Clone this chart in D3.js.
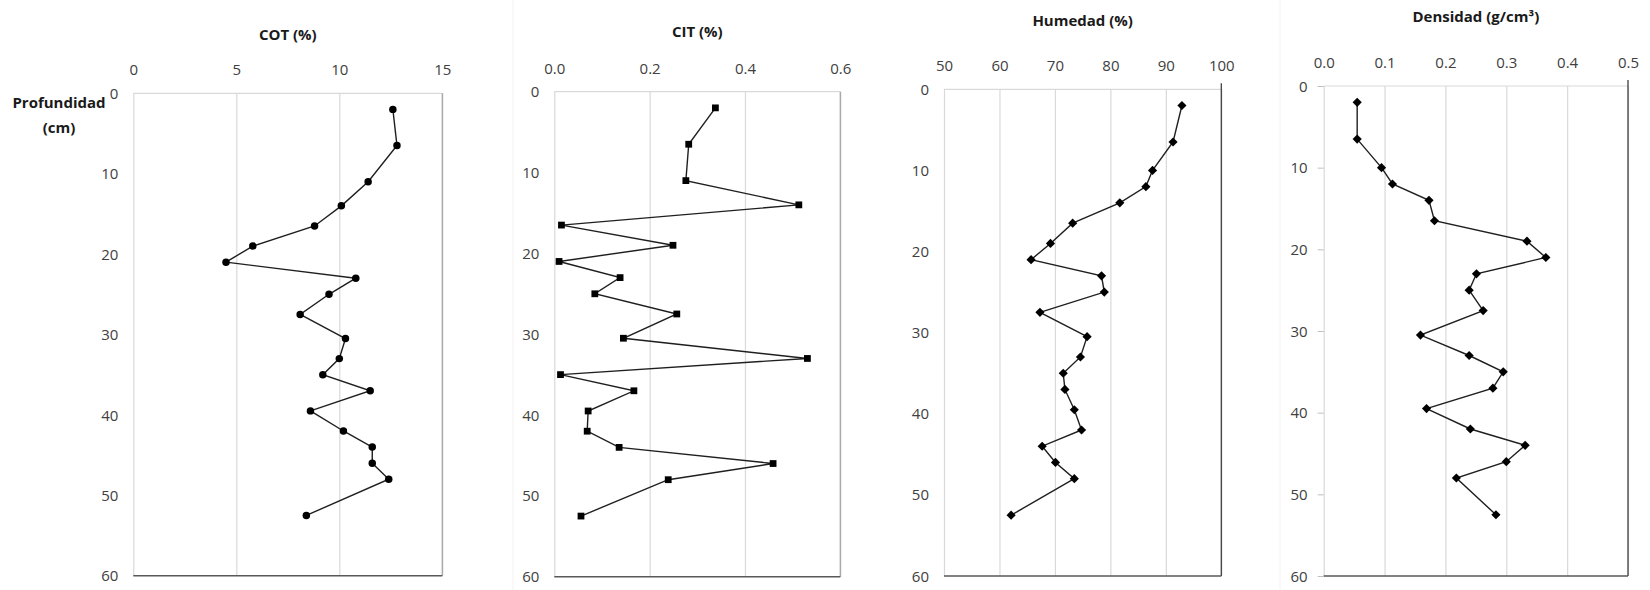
<!DOCTYPE html>
<html>
<head>
<meta charset="utf-8">
<script src="https://cdn.jsdelivr.net/npm/d3@7"></script>
<style>
  html, body { margin: 0; padding: 0; background: #ffffff; }
  svg { display: block; }
  text { font-family: "Open Sans", "Noto Sans", sans-serif; fill: #262626; }
  .tick text { font-size: 15px; fill: #404040; }
  .title { font-size: 15px; font-weight: 700; fill: #1a1a1a; }
</style>
</head>
<body>
<script>
// ---- Data ----
const depthA = [2, 6.5, 11, 14, 16.5, 19, 21, 23, 25, 27.5, 30.5, 33, 35, 37, 39.5, 42, 44, 46, 48, 52.5];
const depthB = [2, 6.5, 10, 12, 14, 16.5, 19, 21, 23, 25, 27.5, 30.5, 33, 35, 37, 39.5, 42, 44, 46, 48, 52.5];

const cot = [12.6, 12.8, 11.4, 10.1, 8.8, 5.8, 4.5, 10.8, 9.5, 8.1, 10.3, 10.0, 9.2, 11.5, 8.6, 10.2, 11.6, 11.6, 12.4, 8.4];
const cit = [0.338, 0.282, 0.276, 0.513, 0.015, 0.249, 0.010, 0.138, 0.085, 0.257, 0.145, 0.531, 0.013, 0.167, 0.071, 0.069, 0.136, 0.459, 0.239, 0.056];
const humedad = [92.9, 91.3, 87.6, 86.4, 81.7, 73.2, 69.2, 65.7, 78.4, 78.9, 67.3, 75.8, 74.6, 71.5, 71.8, 73.5, 74.8, 67.7, 70.1, 73.5, 62.1];
const densidad = [0.055, 0.055, 0.095, 0.113, 0.173, 0.182, 0.334, 0.365, 0.251, 0.239, 0.262, 0.159, 0.239, 0.295, 0.278, 0.169, 0.241, 0.331, 0.300, 0.218, 0.283];

const titles = ["COT (%)", "CIT (%)", "Humedad (%)", "Densidad (g/cm³)"];
const xDomains = [[0, 15], [0, 0.6], [50, 100], [0, 0.5]];
const xTicks = [[0, 5, 10, 15], [0, 0.2, 0.4, 0.6], [50, 60, 70, 80, 90, 100], [0, 0.1, 0.2, 0.3, 0.4, 0.5]];
const xFormats = ["d", ".1f", "d", ".1f"];
const yTicks = [0, 10, 20, 30, 40, 50, 60];
const yLabel = ["Profundidad", "(cm)"];

// ---- Layout ----
const W = 1650, H = 590;
const panels = [
  { x0: 133.3, x1: 442.3, y0: 93.3, y1: 575.7, titleY: 36, depth: depthA, vals: cot, marker: "circle", right: "#a6a6a6", frameX: null },
  { x0: 554.3, x1: 840.3, y0: 91.7, y1: 576.7, titleY: 33, depth: depthA, vals: cit, marker: "square", right: "#a6a6a6", frameX: 513 },
  { x0: 944, x1: 1221.3, y0: 89.3, y1: 576, titleY: 22, depth: depthB, vals: humedad, marker: "diamond", right: "#404040", frameX: null },
  { x0: 1323.7, x1: 1628, y0: 86, y1: 576, titleY: 18, depth: depthB, vals: densidad, marker: "diamond", right: "#404040", frameX: 1280 }
];

const svg = d3.select("body").append("svg").attr("width", W).attr("height", H);

const diamond = {
  draw(ctx, size) {
    const r = Math.sqrt(size / 2);
    ctx.moveTo(0, -r); ctx.lineTo(r, 0); ctx.lineTo(0, r); ctx.lineTo(-r, 0); ctx.closePath();
  }
};
const symbolTypes = { circle: d3.symbolCircle, square: d3.symbolSquare, diamond: diamond };
const symbolSizes = { circle: 44, square: 46, diamond: 42 };

panels.forEach((p, i) => {
  const x = d3.scaleLinear().domain(xDomains[i]).range([p.x0, p.x1]);
  const y = d3.scaleLinear().domain([0, 60]).range([p.y0, p.y1]);
  const g = svg.append("g");

  if (p.frameX !== null) {
    g.append("line").attr("x1", p.frameX).attr("x2", p.frameX).attr("y1", 0).attr("y2", H)
      .attr("stroke", "#f2f2f2").attr("stroke-width", 1);
  }

  const grid = g.append("g").attr("transform", `translate(0,${p.y1})`)
    .call(d3.axisBottom(x).tickValues(xTicks[i]).tickSize(-(p.y1 - p.y0)).tickFormat(""));
  grid.select(".domain").remove();
  grid.selectAll(".tick line").attr("stroke", "#d9d9d9").attr("stroke-width", 1.2);

  g.append("line").attr("x1", p.x0).attr("x2", p.x1).attr("y1", p.y0).attr("y2", p.y0)
    .attr("stroke", "#d9d9d9").attr("stroke-width", 1.2);
  g.append("line").attr("x1", p.x1).attr("x2", p.x1).attr("y1", p.y0 - (i >= 2 ? 6 : 0)).attr("y2", p.y1)
    .attr("stroke", p.right).attr("stroke-width", 1.3);
  g.append("line").attr("x1", p.x0).attr("x2", p.x1).attr("y1", p.y1).attr("y2", p.y1)
    .attr("stroke", "#595959").attr("stroke-width", 1.5);

  const xa = g.append("g").attr("transform", `translate(0,${p.y0})`)
    .call(d3.axisTop(x).tickValues(xTicks[i]).tickSize(0).tickPadding(18).tickFormat(d3.format(xFormats[i])));
  xa.select(".domain").remove();

  const ya = g.append("g").attr("transform", `translate(${p.x0},0)`)
    .call(d3.axisLeft(y).tickValues(yTicks).tickSize(i === 3 ? 6 : 0).tickPadding(i === 3 ? 10 : 15).tickFormat(d3.format("d")));
  ya.select(".domain").remove();
  ya.selectAll(".tick line").attr("stroke", "#bfbfbf");
  ya.selectAll(".tick text").attr("dy", "0.34em");

  g.append("text").attr("class", "title").attr("x", (p.x0 + p.x1) / 2).attr("y", p.titleY)
    .attr("text-anchor", "middle").attr("dominant-baseline", "middle").text(titles[i]);

  const pts = p.depth.map((d, k) => [p.vals[k], d]);
  g.append("path").datum(pts)
    .attr("fill", "none").attr("stroke", "#1f1f1f").attr("stroke-width", 1.4)
    .attr("d", d3.line().x(d => x(d[0])).y(d => y(d[1])));

  g.selectAll(".m").data(pts).join("path")
    .attr("transform", d => `translate(${x(d[0])},${y(d[1])})`)
    .attr("d", d3.symbol().type(symbolTypes[p.marker]).size(symbolSizes[p.marker]))
    .attr("fill", "#000000");
});

const yl = svg.append("text").attr("class", "title").attr("text-anchor", "middle");
yl.selectAll("tspan").data(yLabel).join("tspan")
  .attr("x", 59).attr("y", (d, k) => 108 + k * 25).text(d => d);
</script>
</body>
</html>
